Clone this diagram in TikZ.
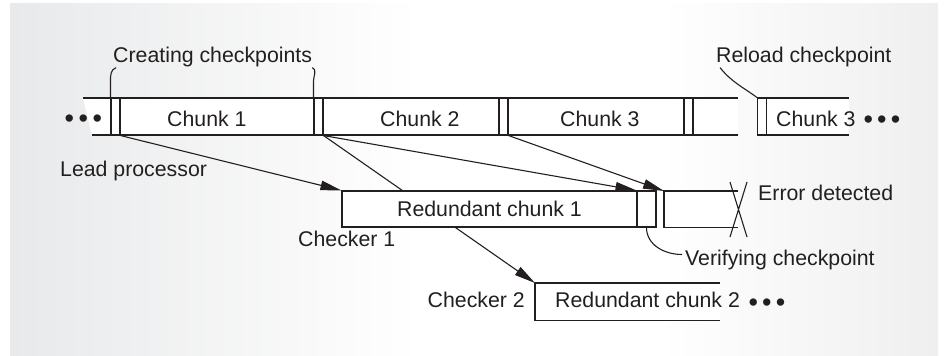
\documentclass[tikz,border=0pt]{standalone}
\usepackage{fontspec}
\setmainfont{Liberation Sans}
\usepackage{xcolor}
\usepackage{tikz}
\usetikzlibrary{shapes,arrows.meta,positioning}
\usetikzlibrary{calc}

\definecolor{ink}{RGB}{35,31,32}
\definecolor{panelL}{RGB}{206,208,211}
\definecolor{panelR}{RGB}{211,212,215}
\pgfdeclarehorizontalshading{panel}{100bp}{color(0bp)=(panelL); color(47bp)=(white); color(60bp)=(white); color(100bp)=(panelR)}

\begin{document}
\begin{tikzpicture}
  [
    x=1pt, y=-1pt,
    every node/.style={inner sep=0pt, text=ink, font=\fontsize{21.3}{25}\selectfont},
    Txt/.style={anchor=base west},
    Dots/.style={anchor=base west, font=\fontsize{27}{30}\selectfont},
    Box/.style={rectangle, draw=ink, fill=white, line width=1.1pt},
    Ckpt/.style={Box, minimum width=9pt, minimum height=37pt},
    Open/.style={rectangle, fill=white, anchor=north west},
    Feed/.style={draw=ink, line width=1.1pt, -{Triangle[length=21pt,width=9.5pt]}},
    Lead/.style={draw=ink, line width=1.1pt}
  ]
  \useasboundingbox (0,0) rectangle (946,356);
  \shade[shading=panel] (10,3) rectangle (938,356);

  % Lead processor
  \fill[white] (83,98) -- (738,98) -- (738,135) -- (92,135) -- cycle;
  \path[Lead] (83,98) -- (738,98) (92,135) -- (738,135);
  \fill[white] (757,98) rectangle (849,135);
  \path[Lead] (757,98) -- (849,98) (757,135) -- (849,135);

  \node[Ckpt] (cp0) at (115.5,116.5) {};
  \node[Ckpt] (cp1) at (318.5,116.5) {};
  \node[Ckpt] (cp2) at (503.5,116.5) {};
  \node[Ckpt] (cp3) at (688.5,116.5) {};
  \node[Ckpt] (cpR) at (762,116.5) {};

  \node[Dots] (dotsL) at (64.3,127.5) {•\hspace{4.6pt}•\hspace{4.6pt}•};
  \node[Txt] (ch1) at (167,126) {Chunk 1};
  \node[Txt] (ch2) at (380,126) {Chunk 2};
  \node[Txt] (ch3) at (560,126) {Chunk 3};
  \node[Txt] (ch3r) at (776,126) {Chunk 3};
  \node[Dots] (dotsR) at (863.3,128) {•\hspace{4.2pt}•\hspace{4.2pt}•};

  \node[Txt] (ccp) at (113,62) {Creating checkpoints};
  \node[Txt] (rld) at (716,62) {Reload checkpoint};
  \node[Txt] (lead) at (60,176) {Lead processor};

  % Checker 2
  \node[Open, minimum width=185pt, minimum height=37pt] (rc2) at (535,283) {};
  \path[Lead] (rc2.north east) -- (rc2.north west) -- (rc2.south west) -- (rc2.south east);
  \node[Txt] (rc2txt) at (555,307) {Redundant chunk 2};
  \node[Dots] (dotsC) at (748.3,311.5) {•\hspace{4.2pt}•\hspace{4.2pt}•};
  \node[anchor=base east] (ck2) at (525,307) {Checker 2};
  \path[Feed] (cp1.south east) -- (rc2.north west);

  % Checker 1
  \node[Box, minimum width=295pt, minimum height=36pt] (rc1) at (489.5,209) {Redundant chunk 1};
  \node[Box, minimum width=19pt, minimum height=36pt] (vcp) at (646.5,209) {};
  \node[Open, minimum width=74pt, minimum height=36pt] (err) at (664,191) {};
  \path[Lead] (err.north east) -- (err.north west) -- (err.south west) -- (err.south east);
  \path[Lead] (730,182) -- (747,237) (747,182) -- (730,237);

  \node[Txt] (ck1) at (298,246) {Checker 1};
  \node[Txt] (errtxt) at (758,200) {Error detected};
  \node[Txt] (vf) at (685,265) {Verifying checkpoint};

  % Lines
  \path[Feed] (cp0.south east) -- (rc1.north west);
  \path[Feed] (cp1.south east) -- (vcp.north west);
  \path[Feed] (cp2.south east) -- (err.north west);

  \path[Lead] (cp0.north west) -- ++(0,-16) to[out=90,in=200] ([xshift=3pt,yshift=-1pt]ccp.south west);
  \path[Lead] (cp1.north west) -- ++(0,-16) to[out=90,in=-20] ([yshift=-1pt]ccp.south east);
  \path[Lead] (cpR.north west) to[out=144,in=-51] ([xshift=4pt,yshift=-1pt]rld.south west);
  \path[Lead] (vcp.south) to[out=-90,in=180] ([xshift=-3pt,yshift=5pt]vf.west);

\end{tikzpicture}
\end{document}
